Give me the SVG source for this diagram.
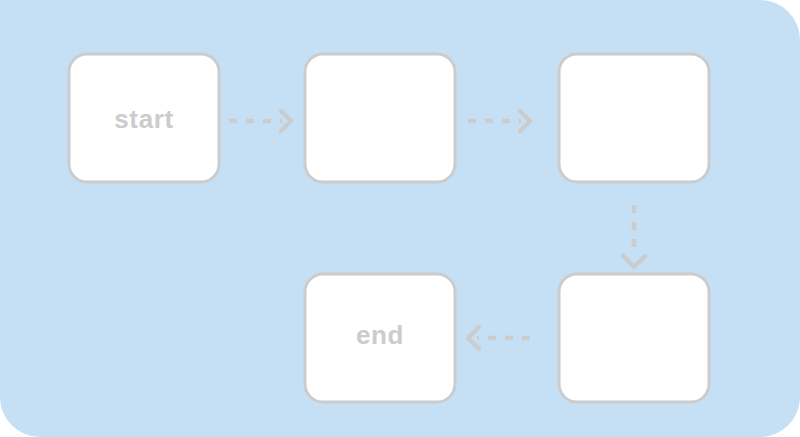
<svg xmlns="http://www.w3.org/2000/svg" width="800" height="437" viewBox="0 0 800 437">
<style>
.node rect{fill:#fff;stroke:#cccccc;stroke-width:3}
.node text{font-family:"Liberation Sans",Arial,sans-serif;font-weight:bold;font-size:26px;letter-spacing:0.6px;fill:#cccccc;text-anchor:middle}
.conn line{stroke:#cccccc;stroke-width:4.5;stroke-dasharray:8 9;fill:none}
.conn path{stroke:#cccccc;stroke-width:4.5;stroke-linecap:round;stroke-linejoin:round;fill:none}
</style>
<path d="M0,0 H760 A40,40 0 0 1 800,40 V397 A40,40 0 0 1 760,437 H40 A40,40 0 0 1 0,397 Z" fill="#c5dff4"/>
<g id="n-start" class="node"><rect x="69" y="54" width="150" height="128" rx="18"/><text x="144" y="128">start</text></g>
<g id="n-2" class="node"><rect x="305" y="54" width="150" height="128" rx="18"/></g>
<g id="n-3" class="node"><rect x="559" y="54" width="150" height="128" rx="18"/></g>
<g id="n-4" class="node"><rect x="559" y="274" width="150" height="128" rx="18"/></g>
<g id="n-end" class="node"><rect x="305" y="274" width="150" height="128" rx="18"/><text x="380" y="344">end</text></g>
<g id="connectors" class="conn">
<line x1="229" y1="121" x2="282" y2="121"/><path d="M281,111 L291,121 L281,131"/>
<line x1="468" y1="121" x2="521" y2="121"/><path d="M520,111 L530,121 L520,131"/>
<line x1="634" y1="205" x2="634" y2="256"/><path d="M623,256 L634,267 L645,256"/>
<line x1="530" y1="338" x2="477" y2="338"/><path d="M479,327 L468,338 L479,349"/>
</g>
</svg>
